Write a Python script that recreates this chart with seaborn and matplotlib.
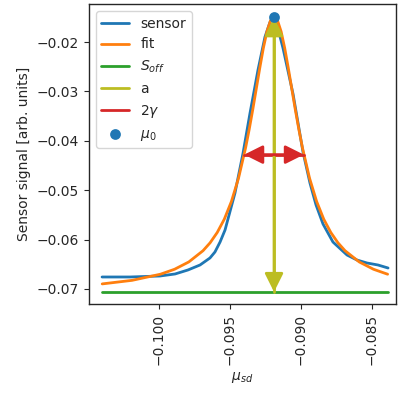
import matplotlib
matplotlib.use("Agg")
import matplotlib.pyplot as plt
import seaborn as sns

# ---- data ----
sensor_x = [-0.10401, -0.10204, -0.09993, -0.09887, -0.09796, -0.09711, -0.09641,
            -0.09606, -0.09570, -0.09535, -0.09465, -0.09408, -0.09359, -0.09338,
            -0.09303, -0.09254, -0.09218, -0.09197, -0.09176, -0.09127, -0.09056,
            -0.08986, -0.08937, -0.08894, -0.08845, -0.08775, -0.08676, -0.08606,
            -0.08535, -0.08458, -0.08387]
sensor_y = [-0.06757, -0.06757, -0.06737, -0.06696, -0.06615, -0.06514, -0.06372,
            -0.06251, -0.06049, -0.05806, -0.05057, -0.04247, -0.03437, -0.03113,
            -0.02567, -0.01899, -0.01595, -0.01534, -0.01575, -0.02121, -0.03053,
            -0.04227, -0.04854, -0.05300, -0.05684, -0.06049, -0.06312, -0.06413,
            -0.06474, -0.06514, -0.06575]

fit_x = [-0.1040, -0.1019, -0.0999, -0.0989, -0.0979, -0.0969, -0.0964, -0.0959,
         -0.0954, -0.0949, -0.0944, -0.0939, -0.09365, -0.0934, -0.09315, -0.0929,
         -0.09265, -0.0924, -0.09215, -0.0919, -0.09165, -0.0914, -0.09115, -0.0909,
         -0.09065, -0.0904, -0.09015, -0.0899, -0.0894, -0.0889, -0.0884, -0.0879,
         -0.0874, -0.0869, -0.0859, -0.0849, -0.0839]
fit_y = [-0.06897, -0.06825, -0.06701, -0.06600, -0.06452, -0.06225, -0.06064, -0.05856,
         -0.05586, -0.05228, -0.04756, -0.04139, -0.03772, -0.03372, -0.02947, -0.02520,
         -0.02120, -0.01789, -0.01568, -0.01490, -0.01568, -0.01789, -0.02120, -0.02520,
         -0.02947, -0.03372, -0.03772, -0.04139, -0.04756, -0.05228, -0.05586, -0.05856,
         -0.06064, -0.06225, -0.06452, -0.06600, -0.06701]

s_off_x = [-0.1040, -0.0839]
s_off_y = [-0.0706, -0.0706]
mu0 = -0.0919
peak = -0.0150
gamma_x = [-0.0940, -0.0898]
half_level = -0.0428

x_ticks = [-0.100, -0.095, -0.090, -0.085]
y_ticks = [-0.07, -0.06, -0.05, -0.04, -0.03, -0.02]

# ---- plotting ----
sns.set_theme(style="ticks", context="notebook", palette="tab10",
              rc={"font.size": 10, "axes.labelsize": 10, "xtick.labelsize": 10,
                  "ytick.labelsize": 10, "legend.fontsize": 10,
                  "xtick.major.size": 3.5, "ytick.major.size": 3.5,
                  "xtick.major.width": 0.8, "ytick.major.width": 0.8,
                  "axes.linewidth": 1.0})
fig = plt.figure(figsize=(3.98, 3.94), dpi=100)
ax = fig.add_axes([0.2236, 0.2284, 0.7714, 0.7614])

sns.lineplot(x=sensor_x, y=sensor_y, ax=ax, color="C0", lw=2.0, label="sensor",
             estimator=None)
sns.lineplot(x=fit_x, y=fit_y, ax=ax, color="C1", lw=2.0, label="fit", estimator=None)
sns.lineplot(x=s_off_x, y=s_off_y, ax=ax, color="C2", lw=2.0, label="$S_{off}$",
             estimator=None)
sns.lineplot(x=[mu0, mu0], y=[peak, s_off_y[0]], ax=ax, color="C8", lw=2.0,
             label="a", estimator=None, sort=False)
sns.lineplot(x=gamma_x, y=[half_level, half_level], ax=ax, color="C3", lw=2.0,
             label=r"$2\gamma$", estimator=None)

arrow_style = "<|-|>,head_length=0.4,head_width=0.2"
ax.annotate("", xy=(mu0, peak), xytext=(mu0, s_off_y[0]),
            arrowprops=dict(arrowstyle=arrow_style, color="C8", lw=2.0,
                            mutation_scale=28, shrinkA=0, shrinkB=0))
ax.annotate("", xy=(gamma_x[0], half_level), xytext=(gamma_x[1], half_level),
            arrowprops=dict(arrowstyle=arrow_style, color="C3", lw=2.0,
                            mutation_scale=28, shrinkA=0, shrinkB=0))

sns.scatterplot(x=[mu0], y=[peak], ax=ax, color="C0", s=60, linewidth=0,
                label=r"$\mu_0$", zorder=6)

ax.set_xlim(-0.10493, -0.08331)
ax.set_ylim(-0.07304, -0.01231)
ax.set_xticks(x_ticks)
ax.set_yticks(y_ticks)
ax.tick_params(axis="x", labelrotation=90)
ax.set_xlabel(r"$\mu_{sd}$")
ax.set_ylabel("Sensor signal [arb. units]")
ax.legend(loc="upper left")

fig.savefig("out.png", dpi=100)
